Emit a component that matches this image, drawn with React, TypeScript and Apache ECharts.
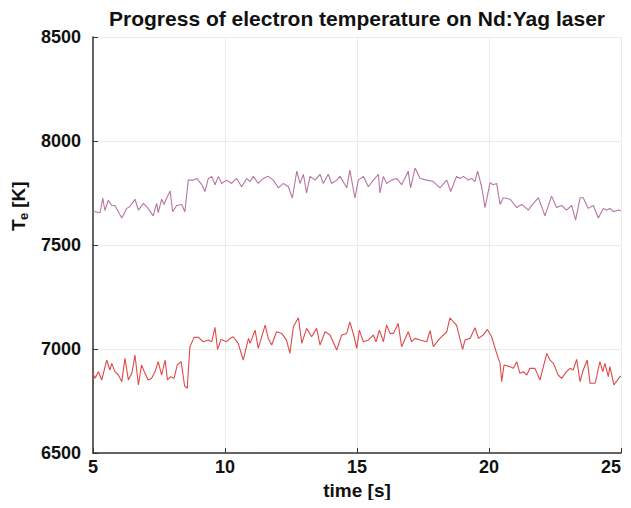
import React, { useEffect, useRef } from "react";
import * as echarts from "echarts";

const titleText = "Progress of electron temperature on Nd:Yag laser";
const xTicks = [5, 10, 15, 20, 25];
const yTicks = [6500, 7000, 7500, 8000, 8500];

const purpleTime = [5.0, 5.08, 5.27, 5.37, 5.45, 5.58, 5.71, 5.83, 6.09, 6.28, 6.4, 6.59, 6.72, 6.91, 7.09, 7.28, 7.41, 7.47, 7.6, 7.69, 7.79, 7.92, 8.02, 8.17, 8.36, 8.48, 8.61, 8.8, 8.93, 9.12, 9.24, 9.37, 9.5, 9.62, 9.75, 9.87, 10.06, 10.25, 10.44, 10.63, 10.82, 10.95, 11.07, 11.26, 11.45, 11.64, 11.83, 12.02, 12.21, 12.4, 12.55, 12.72, 12.84, 12.97, 13.09, 13.22, 13.41, 13.6, 13.72, 13.91, 14.04, 14.23, 14.36, 14.61, 14.73, 14.92, 15.05, 15.24, 15.43, 15.62, 15.81, 15.87, 16.0, 16.12, 16.31, 16.5, 16.69, 16.94, 17.03, 17.2, 17.39, 17.64, 17.89, 18.14, 18.4, 18.55, 18.77, 18.9, 19.03, 19.22, 19.34, 19.47, 19.57, 19.72, 19.85, 20.04, 20.16, 20.29, 20.42, 20.54, 20.8, 21.05, 21.24, 21.49, 21.68, 21.87, 22.12, 22.37, 22.56, 22.75, 22.94, 23.13, 23.28, 23.45, 23.57, 23.76, 23.95, 24.14, 24.33, 24.46, 24.58, 24.71, 24.9, 25.0];
const purpleTe = [7660, 7660, 7655, 7726, 7666, 7715, 7690, 7690, 7630, 7676, 7685, 7720, 7668, 7700, 7676, 7640, 7700, 7655, 7720, 7695, 7726, 7760, 7660, 7690, 7695, 7660, 7812, 7812, 7820, 7790, 7757, 7820, 7830, 7790, 7830, 7796, 7812, 7796, 7820, 7780, 7820, 7805, 7830, 7796, 7820, 7830, 7812, 7775, 7796, 7780, 7726, 7855, 7796, 7840, 7750, 7830, 7812, 7840, 7796, 7840, 7796, 7812, 7830, 7775, 7860, 7726, 7812, 7830, 7780, 7812, 7840, 7750, 7830, 7796, 7812, 7820, 7790, 7855, 7775, 7870, 7820, 7812, 7805, 7775, 7812, 7757, 7830, 7820, 7830, 7812, 7820, 7805, 7855, 7780, 7680, 7800, 7790, 7796, 7695, 7727, 7720, 7680, 7695, 7668, 7700, 7727, 7640, 7735, 7680, 7690, 7668, 7690, 7620, 7727, 7727, 7676, 7690, 7630, 7676, 7668, 7676, 7660, 7668, 7665];

const redTime = [5.0, 5.08, 5.2, 5.33, 5.52, 5.64, 5.71, 5.83, 5.96, 6.09, 6.21, 6.34, 6.47, 6.59, 6.72, 6.84, 6.97, 7.09, 7.22, 7.35, 7.47, 7.6, 7.73, 7.82, 7.94, 8.07, 8.19, 8.34, 8.47, 8.57, 8.67, 8.83, 8.99, 9.18, 9.37, 9.5, 9.62, 9.72, 9.85, 10.06, 10.19, 10.31, 10.5, 10.69, 10.89, 10.95, 11.14, 11.26, 11.52, 11.64, 11.77, 11.95, 12.15, 12.33, 12.46, 12.59, 12.78, 12.91, 13.09, 13.28, 13.47, 13.6, 13.79, 13.98, 14.23, 14.42, 14.61, 14.73, 14.89, 14.99, 15.09, 15.24, 15.43, 15.62, 15.72, 15.85, 16.0, 16.12, 16.25, 16.38, 16.56, 16.69, 16.94, 17.07, 17.2, 17.39, 17.64, 17.77, 17.89, 18.14, 18.4, 18.52, 18.65, 18.77, 19.0, 19.09, 19.28, 19.47, 19.6, 19.78, 19.94, 20.1, 20.29, 20.42, 20.48, 20.57, 20.8, 20.92, 21.05, 21.17, 21.3, 21.43, 21.55, 21.74, 21.93, 22.19, 22.31, 22.44, 22.62, 22.75, 22.94, 23.07, 23.19, 23.32, 23.45, 23.57, 23.72, 23.83, 24.02, 24.2, 24.31, 24.39, 24.52, 24.58, 24.73, 24.96, 25.0];
const redTe = [6883, 6859, 6891, 6851, 6947, 6899, 6931, 6891, 6875, 6843, 6955, 6851, 6883, 6971, 6827, 6923, 6883, 6851, 6859, 6891, 6939, 6875, 6947, 6851, 6867, 6859, 6923, 6939, 6822, 6811, 7011, 7056, 7056, 7035, 7043, 7035, 7104, 6998, 7046, 7035, 7051, 7059, 7027, 6947, 7051, 7027, 7091, 7003, 7115, 7051, 7019, 7083, 7075, 7043, 6979, 7107, 7150, 7027, 7099, 7059, 7099, 7019, 7083, 7067, 6995, 7067, 7075, 7130, 7060, 7003, 7091, 7035, 7043, 7067, 7035, 7091, 7035, 7115, 7075, 7075, 7123, 7011, 7083, 7035, 7051, 7043, 7035, 7088, 7011, 7051, 7083, 7150, 7131, 7115, 6998, 7043, 7051, 7102, 7051, 7067, 7094, 7059, 6979, 6931, 6843, 6923, 6915, 6907, 6939, 6883, 6891, 6875, 6907, 6907, 6851, 6979, 6947, 6931, 6875, 6859, 6891, 6907, 6899, 6950, 6843, 6899, 6947, 6835, 6835, 6939, 6891, 6931, 6867, 6915, 6827, 6867, 6870];

const FONT = "'Liberation Sans', Arial, sans-serif";

export default function App() {
  const ref = useRef<HTMLDivElement>(null);
  useEffect(() => {
    if (!ref.current) return;
    const chart = echarts.init(ref.current, null, { renderer: "svg" });
    const purple = purpleTime.map((t, i) => [t, purpleTe[i]]);
    const red = redTime.map((t, i) => [t, redTe[i]]);
    chart.setOption({
      animation: false,
      backgroundColor: "#ffffff",
      title: {
        text: titleText,
        left: 349,
        textAlign: "center",
        top: 0,
        padding: 0,
        textStyle: { fontFamily: FONT, fontWeight: "bold", fontSize: 21, color: "#111" },
      },
      grid: { left: 85, top: 29, width: 528, height: 416, containLabel: false, outerBoundsMode: "none" },
      xAxis: {
        type: "value",
        min: xTicks[0],
        max: xTicks[xTicks.length - 1],
        interval: 5,
        name: "time [s]",
        nameLocation: "middle",
        nameGap: 16,
        nameTextStyle: { fontFamily: FONT, fontWeight: "bold", fontSize: 19, color: "#111", verticalAlign: "top", lineHeight: 20 },
        axisLine: { show: true, lineStyle: { color: "#333", width: 1.5 } },
        axisTick: { show: true, inside: true, length: 5, lineStyle: { color: "#333" } },
        axisLabel: { fontFamily: FONT, fontWeight: "bold", fontSize: 18, color: "#111", margin: 5, alignMaxLabel: "right", formatter: (v: number) => String(v) },
        splitLine: { show: true, lineStyle: { color: "#ebebeb", width: 1 } },
      },
      yAxis: {
        type: "value",
        min: yTicks[0],
        max: yTicks[yTicks.length - 1],
        interval: 500,
        axisLine: { show: true, lineStyle: { color: "#333", width: 1.5 } },
        axisTick: { show: true, inside: true, length: 5, lineStyle: { color: "#333" } },
        axisLabel: { fontFamily: FONT, fontWeight: "bold", fontSize: 18, color: "#111", margin: 12, formatter: (v: number) => String(v) },
        splitLine: { show: true, lineStyle: { color: "#ebebeb", width: 1 } },
      },
      graphic: [
        {
          type: "group",
          x: 18,
          y: 195,
          rotation: Math.PI / 2,
          children: [
            { type: "text", x: -28, y: -8, style: { text: "T", font: "bold 19px " + FONT, fill: "#111", textVerticalAlign: "middle" } },
            { type: "text", x: -17, y: -3, style: { text: "e", font: "bold 13px " + FONT, fill: "#111", textVerticalAlign: "middle" } },
            { type: "text", x: -10, y: -8, style: { text: " [K]", font: "bold 19px " + FONT, fill: "#111", textVerticalAlign: "middle" } },
          ],
        },
      ],
      series: [
        {
          type: "line",
          data: purple,
          showSymbol: false,
          symbol: "none",
          lineStyle: { color: "#b675a3", width: 1.1 },
        },
        {
          type: "line",
          data: red,
          showSymbol: false,
          symbol: "none",
          lineStyle: { color: "#df4a4a", width: 1.1 },
        },
      ],
    });
    return () => chart.dispose();
  }, []);
  return <div ref={ref} style={{ width: 615, height: 492 }} />;
}
